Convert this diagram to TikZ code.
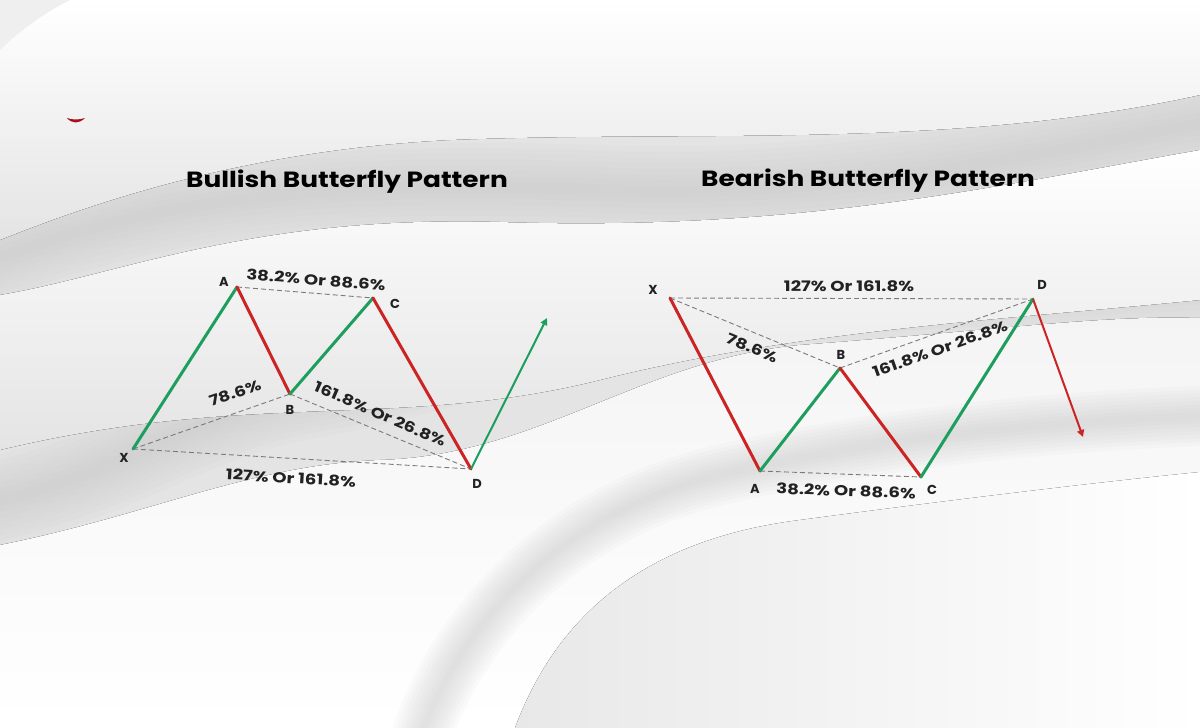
\documentclass[tikz,border=0pt]{standalone}
\usepackage{fontspec}
\newfontfamily\popfont{Poppins}
\newfontfamily\poptitle{Poppins}[FakeStretch=1.2]
\newfontfamily\poplabel{Poppins}[FakeStretch=1.25]
\usetikzlibrary{arrows.meta}
\definecolor{bgbase}{HTML}{E4E4E4}
\definecolor{bgshadow}{HTML}{C4C4C4}
\definecolor{upgreen}{HTML}{1E9E5E}
\definecolor{downred}{HTML}{CC2424}
\definecolor{dashgray}{HTML}{7A7A7A}
\definecolor{txtdark}{HTML}{222222}
\definecolor{tickred}{HTML}{A8101E}
\tikzset{
  uplegline/.style={upgreen, line width=3pt, line cap=round, line join=round},
  downlegline/.style={downred, line width=3pt, line cap=round, line join=round},
  ratioline/.style={dashgray, line width=0.9pt, dash pattern=on 5pt off 3pt},
  ptlabel/.style={font=\popfont\bfseries\fontsize{13}{13}\selectfont, text=txtdark, inner sep=0pt},
  ratiolabel/.style={font=\poplabel\bfseries\fontsize{14.5}{14.5}\selectfont, text=txtdark, inner sep=0pt},
  titlelabel/.style={font=\poptitle\bfseries\fontsize{22}{22}\selectfont, text=black, inner sep=0pt},
  pt/.style={coordinate},
}
\newcommand\softstroke[4]{%
  \foreach \w in {1,0.875,0.75,0.625,0.5,0.375,0.25,0.125}{%
    \draw[#1, line width=\w*#2, opacity=#3, line cap=butt] #4;}}
\begin{document}
\begin{tikzpicture}[x=1pt,y=-1pt]
\useasboundingbox (0,0) rectangle (1200,728);
% ---------- background: soft white waves ----------
\fill[bgbase] (0,0) rectangle (1200,728);
% shadows (drawn first, partly covered by the ridges)
\softstroke{bgshadow}{90pt}{0.07}{(-20,265) .. controls (150,200) and (300,180) .. (600,190) .. controls (850,200) and (1050,150) .. (1220,120)}
\softstroke{bgshadow}{90pt}{0.07}{(-20,505) .. controls (120,475) and (180,420) .. (300,395) .. controls (450,370) and (520,330) .. (650,312) .. controls (850,290) and (1050,285) .. (1220,275)}
\softstroke{bgshadow}{80pt}{0.08}{(430,740) .. controls (470,620) and (560,510) .. (700,465) .. controls (900,410) and (1100,400) .. (1220,400)}
\softstroke{bgshadow}{60pt}{0.09}{(500,740) .. controls (540,620) and (640,530) .. (800,505) .. controls (950,485) and (1100,470) .. (1220,462)}
% ridges
\fill[top color=white, bottom color=bgbase]
  (0,0) -- (1200,0) -- (1200,95) .. controls (950,150) and (700,130) .. (450,140)
  .. controls (250,150) and (100,200) .. (0,240) -- cycle;
\fill[bgbase!60!white] (0,0) -- (70,0) .. controls (40,15) and (15,35) .. (0,50) -- cycle;
\fill[top color=white, bottom color=bgbase]
  (0,295) .. controls (120,275) and (250,215) .. (500,222)
  .. controls (800,232) and (1000,185) .. (1200,150) -- (1200,300)
  .. controls (1000,320) and (800,330) .. (600,380)
  .. controls (400,430) and (250,390) .. (0,450) -- cycle;
\fill[top color=white!60!bgbase, bottom color=white]
  (0,545) .. controls (150,515) and (250,465) .. (380,460)
  .. controls (540,455) and (640,360) .. (800,345)
  .. controls (1000,330) and (1100,315) .. (1200,318) -- (1200,728) -- (0,728) -- cycle;
\softstroke{bgshadow}{60pt}{0.07}{(420,740) .. controls (460,620) and (560,520) .. (700,480) .. controls (900,430) and (1100,420) .. (1220,415)}
\fill[left color=bgbase!85!white, right color=white]
  (515,728) .. controls (555,620) and (640,540) .. (800,520)
  .. controls (950,500) and (1100,482) .. (1200,472) -- (1200,728) -- cycle;
% small red mark
\fill[tickred] (67,118) .. controls (72,124) and (79,124) .. (85,118) .. controls (79,120) and (72,120) .. (67,118) -- cycle;
% ---------- titles ----------
\node[titlelabel] (t1) at (347,182) {Bullish Butterfly Pattern};
\node[titlelabel] (t2) at (868,181) {Bearish Butterfly Pattern};
% ---------- bullish pattern ----------
\node[pt] (bX) at (133,449) {};
\node[pt] (bA) at (237,287) {};
\node[pt] (bB) at (290,394) {};
\node[pt] (bC) at (373,298) {};
\node[pt] (bD) at (471,469) {};
\node[pt] (bE) at (547,318) {};
\draw[ratioline] (bA) -- (bC);
\draw[ratioline] (bX) -- (bB);
\draw[ratioline] (bB) -- (bD);
\draw[ratioline] (bX) -- (bD);
\draw[uplegline] (bX) -- (bA);
\draw[downlegline] (bA) -- (bB);
\draw[uplegline] (bB) -- (bC);
\draw[downlegline] (bC) -- (bD);
\draw[upgreen, line width=2pt, -{Triangle[length=7pt,width=7pt]}] (bD) -- (bE);
\node[ptlabel] (lbX) at (124,458) {X};
\node[ptlabel] (lbA) at (224,282) {A};
\node[ptlabel] (lbB) at (290,410) {B};
\node[ptlabel] (lbC) at (395,304) {C};
\node[ptlabel] (lbD) at (477,484) {D};
\node[ratiolabel, rotate=-4.6] (rb1) at (316,280) {38.2\% Or 88.6\%};
\node[ratiolabel, rotate=19] (rb2) at (235,393) {78.6\%};
\node[ratiolabel, rotate=-23.5] (rb3) at (380,414) {161.8\% Or 26.8\%};
\node[ratiolabel, rotate=-3.4] (rb4) at (291,478) {127\% Or 161.8\%};
% ---------- bearish pattern ----------
\node[pt] (sX) at (670,298) {};
\node[pt] (sA) at (760,471) {};
\node[pt] (sB) at (840,368) {};
\node[pt] (sC) at (921,477) {};
\node[pt] (sD) at (1033,299) {};
\node[pt] (sE) at (1083,437) {};
\draw[ratioline] (sX) -- (sD);
\draw[ratioline] (sX) -- (sB);
\draw[ratioline] (sB) -- (sD);
\draw[ratioline] (sA) -- (sC);
\draw[downlegline] (sX) -- (sA);
\draw[uplegline] (sA) -- (sB);
\draw[downlegline] (sB) -- (sC);
\draw[uplegline] (sC) -- (sD);
\draw[downred, line width=2pt, -{Triangle[length=7pt,width=7pt]}] (sD) -- (sE);
\node[ptlabel] (lsX) at (653,290) {X};
\node[ptlabel] (lsA) at (755,489) {A};
\node[ptlabel] (lsB) at (841,355) {B};
\node[ptlabel] (lsC) at (932,490) {C};
\node[ptlabel] (lsD) at (1042,285) {D};
\node[ratiolabel] (rs1) at (849,286) {127\% Or 161.8\%};
\node[ratiolabel, rotate=-22.4] (rs2) at (752,348) {78.6\%};
\node[ratiolabel, rotate=19.7] (rs3) at (940,349) {161.8\% Or 26.8\%};
\node[ratiolabel, rotate=-2] (rs4) at (846,491) {38.2\% Or 88.6\%};
\end{tikzpicture}
\end{document}
